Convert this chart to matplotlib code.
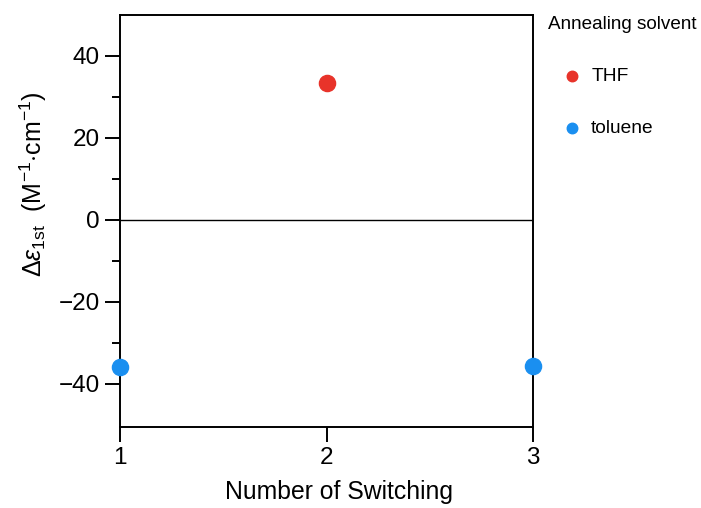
import matplotlib
matplotlib.use("Agg")
import matplotlib.pyplot as plt

# --> Data: change of first Cotton band vs. number of switching cycles.
thf_x = [2]
thf_y = [33.4]
tol_x = [1, 3]
tol_y = [-35.9, -35.6]

xticks = [1, 2, 3]
yticks = [-40, -20, 0, 20, 40]
yminor = [-30, -10, 10, 30]

thf_color = "#E8332A"
tol_color = "#1A8FF0"

plt.rcParams["font.family"] = ["Liberation Sans", "DejaVu Sans"]
plt.rcParams["mathtext.fontset"] = "custom"
plt.rcParams["mathtext.rm"] = "Liberation Sans"
plt.rcParams["mathtext.it"] = "Liberation Sans:italic"

fig = plt.figure(figsize=(7.01, 5.08), dpi=100)
ax = fig.add_axes([120/701, 1 - 427/508, 413/701, 412/508])

# --> Points.
ax.scatter(thf_x, thf_y, s=135, color=thf_color, label="THF", zorder=3, clip_on=False)
ax.scatter(tol_x, tol_y, s=135, color=tol_color, label="toluene", zorder=3, clip_on=False)

# --> Zero line.
ax.axhline(0, color="black", lw=1.0, zorder=1)

ax.set_xlim(1, 3)
ax.set_ylim(-50.5, 50)
ax.set_xticks(xticks)
ax.set_yticks(yticks)
ax.set_yticks(yminor, minor=True)
ax.set_yticklabels([str(v).replace("-", "\u2212") for v in yticks])

for s in ax.spines.values():
    s.set_linewidth(1.4)
ax.tick_params(axis="both", which="major", direction="out", length=10.5, width=1.4,
               labelsize=17.5, pad=4)
ax.tick_params(axis="y", which="minor", direction="out", length=6, width=1.4)

ax.set_xlabel("Number of Switching", fontsize=17.8)
ax.xaxis.set_label_coords(0.53, -0.128)
ax.set_ylabel(r"$\mathit{\Delta\varepsilon}_{\mathrm{1st}}$  (M$^{-1}$$\cdot$cm$^{-1}$)",
              fontsize=18)
ax.yaxis.set_label_coords(-0.172, 0.59)

# --> Legend outside the axes.
leg = fig.legend(loc="upper left", bbox_to_anchor=(548/701, 1 - 16/508),
                 frameon=False, title="Annealing solvent", title_fontsize=13.6,
                 fontsize=13.8, markerscale=0.65, handlelength=2.55,
                 handletextpad=-0.3, labelspacing=1.8, borderpad=0,
                 borderaxespad=0, alignment="left")

fig.savefig("out.png", dpi=100)
